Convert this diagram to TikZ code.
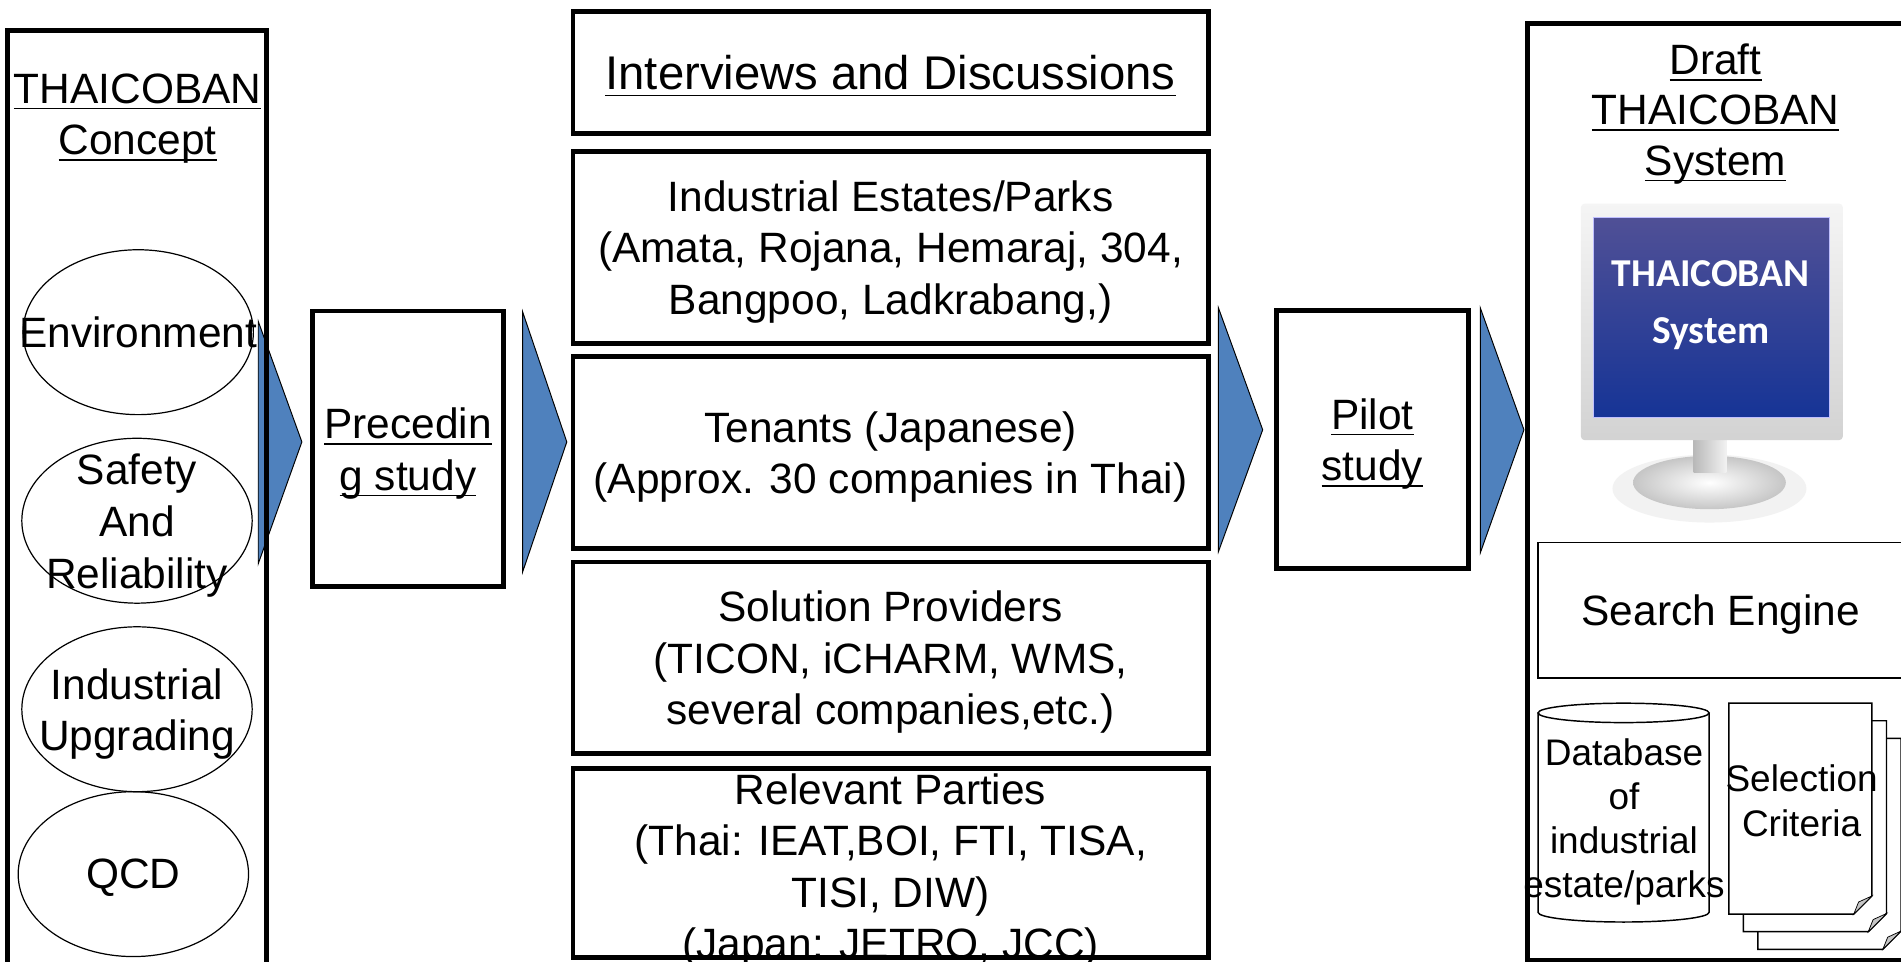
\documentclass[tikz,border=0pt]{standalone}
\usepackage{fontspec}
\setmainfont{Liberation Sans}
\newfontfamily\screenfont{Carlito}
\usetikzlibrary{positioning,shapes.geometric}

\definecolor{flowblue}{HTML}{4F81BD}
\definecolor{scrtop}{RGB}{80,80,150}
\definecolor{scrmid}{RGB}{6,6,90}
\definecolor{scrbot}{RGB}{22,52,150}

% underline at a fixed depth below the baseline
\newsavebox\ulbox
\newcommand\und[1]{\sbox\ulbox{#1}\rlap{\rule[-0.14em]{\wd\ulbox}{0.035em}}\usebox\ulbox}

\begin{document}
\begin{tikzpicture}[x=1pt,y=-1pt,node distance=169.3pt,on grid,
  font=\fontsize{35}{42.5}\selectfont,
  frame/.style={draw,line width=4pt,inner sep=0pt,align=center,text depth=-2pt},
  box/.style={frame,minimum width=524pt,minimum height=158pt},
  oval/.style={ellipse,draw,line width=1pt,minimum width=190pt,minimum height=136pt,inner sep=0pt},
  txt/.style={align=center,inner sep=0pt},
  small/.style={txt,font=\fontsize{30.5}{36.5}\selectfont},
  flow/.style={fill=flowblue,draw=black,line width=0.8pt}]

\useasboundingbox (0,0) rectangle (1568,793);
\fill[white] (0,0) rectangle (1568,793);
\clip (0,0) rectangle (1568,793);

% block arrows between the stages
\filldraw[flow] (213,265) -- (249,364.5) -- (213,465) -- cycle;
\filldraw[flow] (431,257) -- (467.5,364.5) -- (431,472) -- cycle;
\filldraw[flow] (1005,254) -- (1041.5,354.5) -- (1005,455) -- cycle;
\filldraw[flow] (1221,254) -- (1257,354.5) -- (1221,456) -- cycle;

% concept column
\node[frame,minimum width=214pt,minimum height=780pt] (concept) at (113,415) {};
\node[txt] (c_t) at (113.5,97.7) {\und{THAICOBAN}\\\und{Concept}};
\node[oval] (e_1) at (114,274) {};
\node[oval] (e_2) at (113,429.5) {};
\node[oval] (e_3) at (113,585) {};
\node[oval] (e_4) at (110,721) {};
\node[txt] (t_1) at (e_1) {Environment};
\node[txt] (t_2) [below=4pt of e_2] {Safety\\And\\Reliability};
\node[txt] (t_3) [below=4pt of e_3] {Industrial\\Upgrading};
\node[txt] (t_4) [below=3pt of e_4] {QCD};

% preceding study
\node[frame,minimum width=157pt,minimum height=227.5pt] (pre) at (336.5,370.3) {\und{Precedin}\\\und{g study}};

% interviews column
\node[frame,minimum width=524pt,minimum height=100.4pt,font=\fontsize{39}{47}\selectfont] (m_0) at (734.6,59.8) {\und{Interviews and Discussions}};
\node[box] (m_1) [below=144.2pt of m_0] {Industrial Estates/Parks\\(Amata, Rojana, Hemaraj, 304,\\Bangpoo, Ladkrabang,)};
\node[box] (m_2) [below=of m_1] {Tenants (Japanese)\\(Approx. 30 companies in Thai)};
\node[box] (m_3) [below=of m_2] {Solution Providers\\(TICON, iCHARM, WMS,\\several companies,etc.)};
\node[box,minimum height=156.4pt] (m_4) [below=of m_3] {};
\node[txt] (m_4t) at (734.6,718) {Relevant Parties\\(Thai: IEAT,BOI, FTI, TISA,\\TISI, DIW)\\(Japan: JETRO, JCC)};

% pilot study
\node[frame,minimum width=158pt,minimum height=213pt] (pilot) at (1132,362.5) {\und{Pilot}\\\und{study}};

% draft system column
\node[frame,minimum width=312pt,minimum height=772.7pt] (sys) at (1416,405.7) {};
\node[txt,font=\fontsize{35}{41.5}\selectfont] (s_t) at (1415,94) {\und{Draft}\\\und{THAICOBAN}\\\und{System}};

% monitor
\fill[gray!10] (1410,403) ellipse [x radius=80,y radius=28];
\shade[inner color=white,outer color=gray!45] (1410,398) ellipse [x radius=63,y radius=22];
\shade[left color=gray!55,right color=gray!10] (1397,358) rectangle (1424,390);
\shade[top color=gray!8,bottom color=gray!35,rounded corners=3pt] (1304,168) rectangle (1520,363);
\shade[top color=scrtop,middle color=scrmid,bottom color=scrbot] (1314,179) rectangle (1509,344);
\draw[blue!25,line width=0.8pt] (1314,179) rectangle (1509,344);
\node[txt,text=white,font=\screenfont\bfseries\fontsize{32.6}{47}\selectfont] (scr) at (1411,252) {THAICOBAN\\System};

\node[draw,line width=1.3pt,minimum width=301.4pt,minimum height=111.4pt,text depth=0pt] (se) at (1419.3,503.3) {Search Engine};

% database cylinder
\filldraw[line width=1.2pt,fill=white] (1268.6,588) -- (1268.6,752.5) arc[start angle=180,end angle=0,x radius=70.55,y radius=8] -- (1409.7,588);
\draw[line width=1.2pt] (1339.15,588) ellipse [x radius=70.55,y radius=8];
\node[small] (db) at (1339.5,678) {Database\\of\\industrial\\estate/parks};

% stacked criteria sheets
\foreach \d in {2,1,0} {
  \filldraw[fill=white,line width=1.2pt] ({1426+12*\d},{580+14.5*\d}) -- ++(118,0) -- ++(0,159) -- ++(-15,15) -- ++(-103,0) -- cycle;
  \filldraw[fill=gray!45,line width=0.6pt] ({1544+12*\d},{739+14.5*\d}) -- ++(-15,15) -- ++(4,-10) -- cycle;
}
\node[small] (crit) at (1486,660.5) {Selection\\Criteria};
\end{tikzpicture}
\end{document}
